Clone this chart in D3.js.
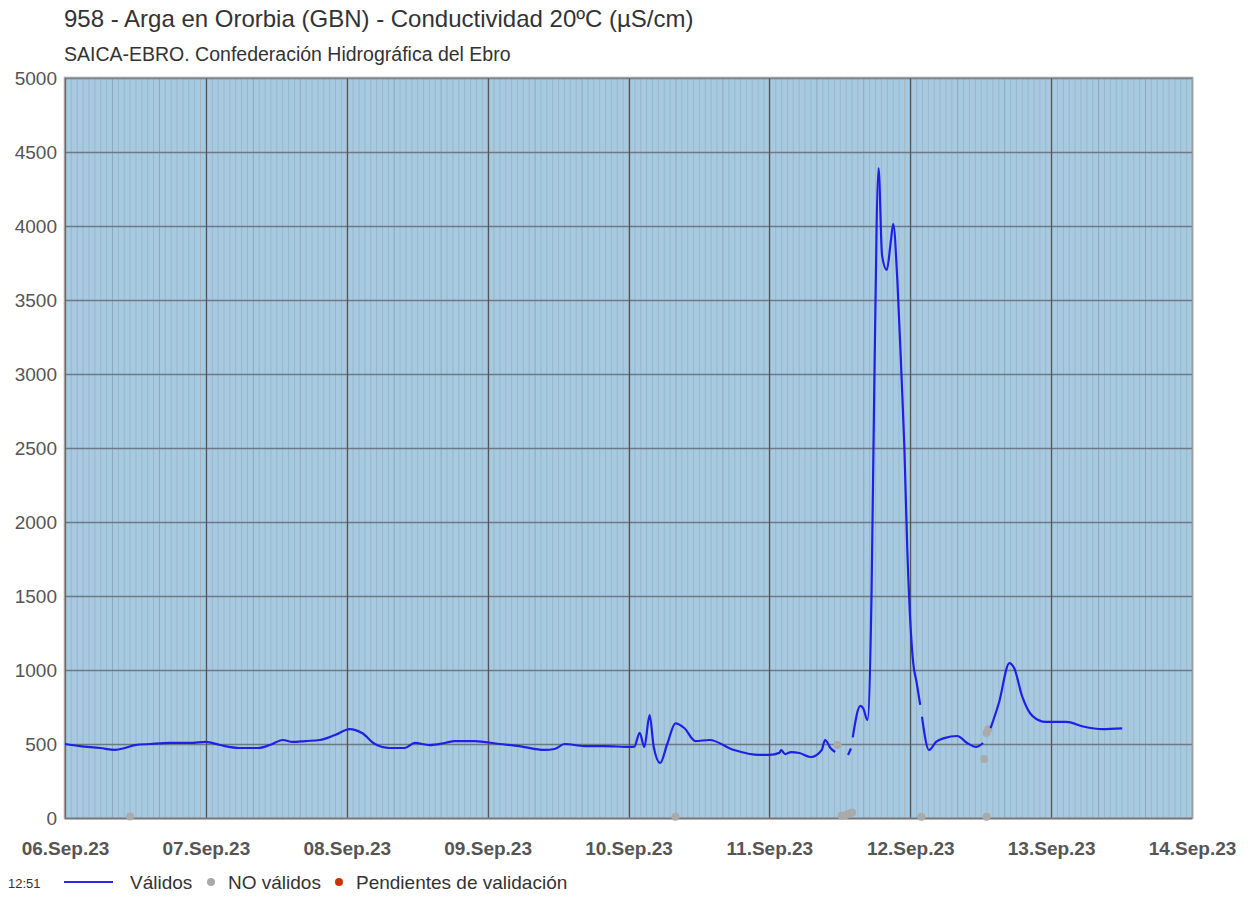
<!DOCTYPE html>
<html><head><meta charset="utf-8">
<script src="https://cdn.jsdelivr.net/npm/d3@7"></script>
<style>
html,body{margin:0;padding:0;background:#fff;}
text{font-family:Arial,"Liberation Sans",sans-serif;}
</style></head>
<body><svg id="chart" width="1256" height="899"></svg>
<script>
const titleText = "958 - Arga en Ororbia (GBN) - Conductividad 20ºC (µS/cm)";
const subtitleText = "SAICA-EBRO. Confederación Hidrográfica del Ebro";
const yTicks = [0,500,1000,1500,2000,2500,3000,3500,4000,4500,5000];
const xDomain = ["2023-09-06T00:00","2023-09-14T00:00"];
const legendTime = "12:51";
const legendLabels = ["Válidos","NO válidos","Pendientes de validación"];

// Válidos series: null value = gap between segments
const validTimes = [
 "06T00:00","06T02:33","06T06:00","06T08:30","06T10:12","06T11:54","06T14:30","06T17:54","06T21:18",
 "07T00:00","07T02:24","07T05:48","07T08:54","07T10:54","07T13:06","07T14:48","07T16:54","07T19:24","07T22:00",
 "08T00:30","08T02:36","08T04:48","08T07:18","08T09:54","08T11:36","08T14:06","08T16:42","08T18:24","08T21:48",
 "09T02:00","09T05:24","09T09:42","09T11:24","09T13:06","09T16:30","09T19:54",
 "10T00:12","10T01:00","10T01:54","10T02:42","10T03:36","10T04:18","10T05:24","10T06:36","10T08:00","10T09:30","10T11:24","10T13:48","10T18:00","10T22:18",
 "11T00:00","11T01:42","11T02:00","11T02:42","11T03:42","11T05:06","11T07:06","11T08:54","11T09:30","11T10:24","11T11:12",
 "11T12:30",
 "11T13:24","11T13:54",
 "11T14:03",
 "11T14:12","11T15:30","11T16:00","11T16:42","11T17:24","11T17:54","11T18:36","11T19:12","11T20:00","11T20:42","11T21:06","11T21:48","11T22:30","11T23:00","11T23:30",
 "12T00:12","12T00:30","12T01:06","12T01:42",
 "12T01:51",
 "12T02:00","12T03:12","12T04:24","12T05:48","12T08:00","12T09:42","12T11:12","12T12:24",
 "12T13:00",
 "12T13:42","12T15:06","12T16:54","12T17:42","12T19:06","12T20:48","12T23:06",
 "13T02:36","13T05:18","13T08:42","13T12:06"
];
const validValues = [
 500,486,473,460,473,493,500,507,507,
 514,493,473,473,493,527,514,520,527,561,
 601,574,500,473,473,507,493,507,520,520,
 500,486,460,466,500,486,486,
 480,482,575,480,696,480,372,500,640,608,520,527,459,426,
 426,440,459,432,445,439,412,459,527,473,446,
 null,
 426,470,
 null,
 545,757,740,662,1500,3000,4392,3800,3703,3900,4014,3635,3000,2500,1811,
 1200,1050,912,764,
 null,
 684,459,514,540,554,507,480,507,
 null,
 608,777,1047,1013,818,690,649,
 649,620,600,605
];

// NO válidos points
const invalidTimes = ["06T11:06","10T08:00","11T11:36","11T12:18","11T13:00","11T13:36","11T14:06","12T01:54","12T12:36","12T13:00","12T13:18","12T13:00"];
const invalidValues = [10,8,493,15,20,30,38,8,399,574,600,8];

const parse = s => new Date("2023-09-" + s + ":00Z");
const svg = d3.select("#chart");
const L = 65, R = 1192, T = 78, B = 818;
const x = d3.scaleUtc().domain(xDomain.map(s => new Date(s + ":00Z"))).range([L, R]);
const y = d3.scaleLinear().domain([0, 5000]).range([B, T]);

// title
svg.append("text").attr("x", 64).attr("y", 27).attr("font-size", 24).attr("fill", "#333").text(titleText);
svg.append("text").attr("x", 64).attr("y", 61).attr("font-size", 19.5).attr("fill", "#333").text(subtitleText);

// plot bg
svg.append("rect").attr("x", L).attr("y", T).attr("width", R - L).attr("height", B - T).attr("fill", "#a8cae0");

// minor hourly grid
const hours = d3.utcHour.every(1).range(x.domain()[0], x.domain()[1]);
svg.append("g").selectAll("line").data(hours).join("line")
  .attr("x1", d => x(d) + 0.5).attr("x2", d => x(d) + 0.5).attr("y1", T).attr("y2", B)
  .attr("stroke", d => d.getUTCHours() % 8 === 0 ? "#8aa9bf" : "#97b8ce").attr("stroke-width", 1);

// horizontal grid
svg.append("g").selectAll("line").data(yTicks).join("line")
  .attr("x1", L).attr("x2", R).attr("y1", d => Math.round(y(d)) + 0.5).attr("y2", d => Math.round(y(d)) + 0.5)
  .attr("stroke", "#6b7a84").attr("stroke-width", 1.5);

// daily vertical grid
const days = d3.utcDay.every(1).range(x.domain()[0], d3.utcDay.offset(x.domain()[1], 1));
svg.append("g").selectAll("line").data(days).join("line")
  .attr("x1", d => Math.round(x(d)) + 0.5).attr("x2", d => Math.round(x(d)) + 0.5).attr("y1", T).attr("y2", B)
  .attr("stroke", "#555").attr("stroke-width", 1.3);

// border
svg.append("rect").attr("x", L - 0.5).attr("y", T - 0.5).attr("width", R - L + 1).attr("height", B - T + 1)
  .attr("fill", "none").attr("stroke", "#a0a0a0").attr("stroke-width", 1.5);
svg.append("line").attr("x1", L).attr("x2", R).attr("y1", B + 0.5).attr("y2", B + 0.5).attr("stroke", "#777").attr("stroke-width", 1.5);

// axes
const yAxis = d3.axisLeft(y).tickValues(yTicks).tickSize(0).tickPadding(8).tickFormat(d3.format("d"));
const gy = svg.append("g").attr("transform", `translate(${L},0)`).call(yAxis);
gy.select(".domain").remove();
gy.selectAll("text").attr("font-size", 19).attr("fill", "#555").attr("font-family", "Arial, 'Liberation Sans', sans-serif");

const xAxis = d3.axisBottom(x).ticks(d3.utcDay.every(1)).tickSize(0).tickFormat(d3.utcFormat("%d.%b.%y"));
const gx = svg.append("g").attr("transform", `translate(0,${B})`).call(xAxis);
gx.select(".domain").remove();
gx.selectAll("text").attr("y", 37).attr("dy", 0).attr("font-size", 19).attr("font-weight", "bold").attr("fill", "#555").attr("font-family", "Arial, 'Liberation Sans', sans-serif");

// invalid points
svg.append("g").selectAll("circle").data(invalidTimes.map((t, i) => ({t: parse(t), v: invalidValues[i]}))).join("circle")
  .attr("cx", d => x(d.t)).attr("cy", d => y(d.v)).attr("r", 4).attr("fill", "#aaaaaa");

// valid line
const validData = validTimes.map((t, i) => ({t: parse(t), v: validValues[i]}));
const line = d3.line().defined(d => d.v !== null).x(d => x(d.t)).y(d => y(d.v)).curve(d3.curveMonotoneX);
svg.append("path").datum(validData).attr("d", line).attr("fill", "none")
  .attr("stroke", "#1f1fe8").attr("stroke-width", 2.2).attr("stroke-linejoin", "round");

// legend
const lg = svg.append("g");
lg.append("text").attr("x", 8).attr("y", 888).attr("font-size", 13).attr("fill", "#333").text(legendTime);
lg.append("line").attr("x1", 64).attr("x2", 113).attr("y1", 882).attr("y2", 882).attr("stroke", "#2a2ae8").attr("stroke-width", 2.2);
lg.append("text").attr("x", 130).attr("y", 889).attr("font-size", 19).attr("fill", "#333").text(legendLabels[0]);
lg.append("circle").attr("cx", 211).attr("cy", 882).attr("r", 4).attr("fill", "#aaaaaa");
lg.append("text").attr("x", 228).attr("y", 889).attr("font-size", 19).attr("fill", "#333").text(legendLabels[1]);
lg.append("circle").attr("cx", 339).attr("cy", 882).attr("r", 4).attr("fill", "#cc3300");
lg.append("text").attr("x", 356).attr("y", 889).attr("font-size", 19).attr("fill", "#333").text(legendLabels[2]);
</script></body></html>
